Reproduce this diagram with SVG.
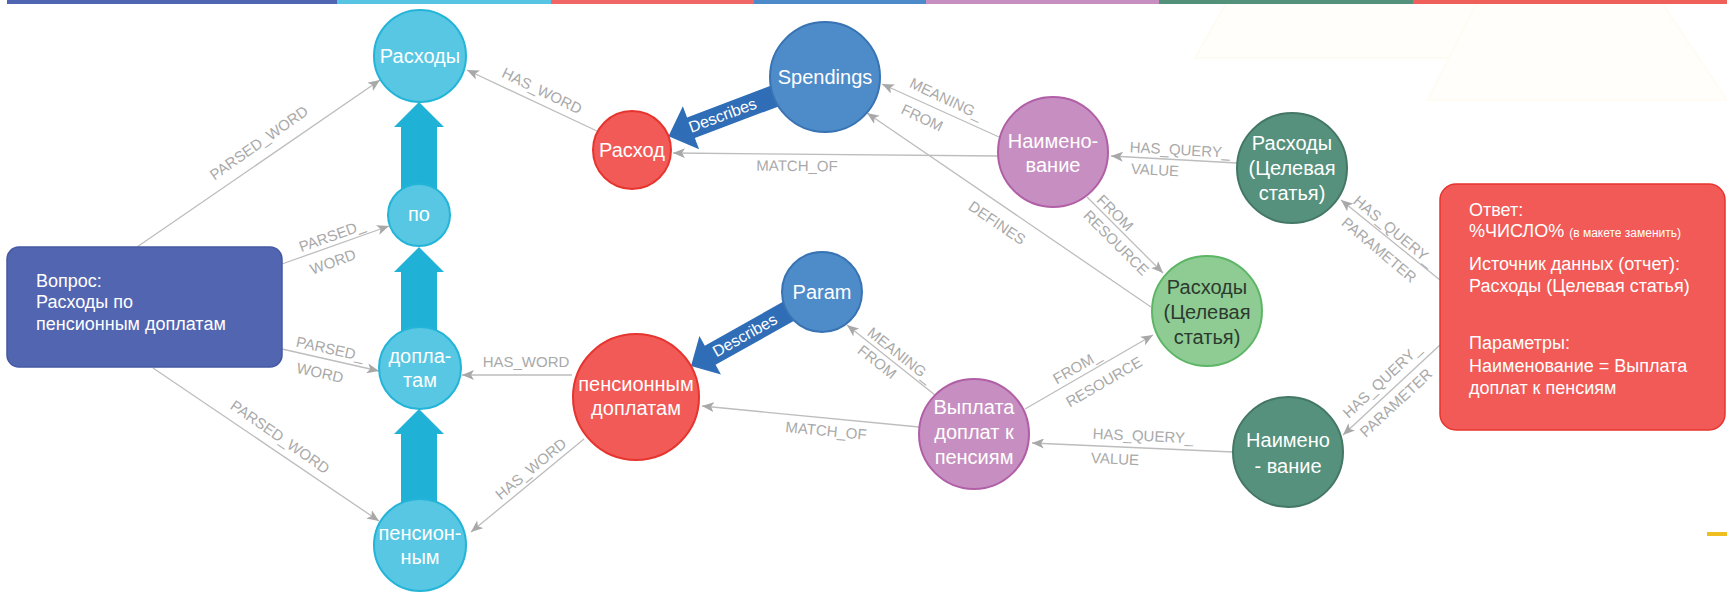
<svg xmlns="http://www.w3.org/2000/svg" width="1727" height="592" viewBox="0 0 1727 592">
<style>
text{font-family:"Liberation Sans",Arial,sans-serif}
.e{stroke:#bdbdbd;stroke-width:1.3;fill:none;marker-end:url(#ah)}
.el{font-size:15px;fill:#a9a9a9;text-anchor:middle}
.nt{font-size:20px;fill:#fff;text-anchor:middle}
.dk{fill:#2c3a2f}
.bt{font-size:18px;fill:#fff}
.cy{fill:#57c7e3;stroke:#23b4d8;stroke-width:2}
.rd{fill:#f15a56;stroke:#e6342f;stroke-width:2}
.bl{fill:#4e8bc9;stroke:#3873b4;stroke-width:2}
.pu{fill:#c78fc1;stroke:#b05fa6;stroke-width:2}
.dg{fill:#55917c;stroke:#447865;stroke-width:2}
.lg{fill:#8ecc93;stroke:#5db566;stroke-width:2}
.tc{fill:#1fb2d6}
.td{fill:#2f6db6}
</style>
<defs>
<marker id="ah" markerUnits="userSpaceOnUse" markerWidth="12" markerHeight="10" refX="12" refY="5" orient="auto"><path d="M0,0 L12,5 L0,10 L3,5 z" fill="#a8a8a8"/></marker>
</defs>
<rect width="1727" height="592" fill="#fff"/>
<g id="background">
<polygon points="1195,58 1228,0 1492,0 1522,58" fill="#fffefa" stroke="#fefcf2" stroke-width="2"/>
<polygon points="1428,100 1478,0 1660,0 1727,100" fill="#fffefa" stroke="#fefcf3" stroke-width="2"/>
<rect x="1707" y="532" width="20" height="4" fill="#efbf22"/>
</g>
<g id="topbar">
<rect x="7" y="0" width="330" height="4" fill="#5065b2"/>
<rect x="337" y="0" width="214" height="4" fill="#56c4e2"/>
<rect x="551" y="0" width="203" height="4" fill="#f16667"/>
<rect x="754" y="0" width="172" height="4" fill="#4d8ac9"/>
<rect x="926" y="0" width="233" height="4" fill="#c78ec2"/>
<rect x="1159" y="0" width="254" height="4" fill="#54917a"/>
<rect x="1413" y="0" width="314" height="4" fill="#f0605a"/>
</g>
<g id="connectors">
<line class="e" x1="137" y1="247" x2="380" y2="80"/>
<line class="e" x1="282" y1="264" x2="389" y2="226"/>
<line class="e" x1="282" y1="349" x2="379" y2="371"/>
<line class="e" x1="153" y1="368" x2="379" y2="521"/>
<line class="e" x1="597" y1="131" x2="467" y2="70"/>
<line class="e" x1="998" y1="156" x2="673" y2="153"/>
<line class="e" x1="999" y1="137" x2="882" y2="84"/>
<line class="e" x1="1151" y1="307" x2="867" y2="113"/>
<line class="e" x1="1087" y1="197" x2="1163" y2="273"/>
<line class="e" x1="1237" y1="163" x2="1111" y2="156"/>
<line class="e" x1="1440" y1="280" x2="1341" y2="200"/>
<line class="e" x1="1440" y1="345" x2="1343" y2="435"/>
<line class="e" x1="1233" y1="452" x2="1032" y2="443"/>
<line class="e" x1="1025" y1="409" x2="1153" y2="335"/>
<line class="e" x1="935" y1="395" x2="847" y2="325"/>
<line class="e" x1="919" y1="427" x2="702" y2="406"/>
<line class="e" x1="572" y1="375" x2="462" y2="375"/>
<line class="e" x1="584" y1="439" x2="471" y2="532"/>
<g class="el">
<text transform="translate(259,143) rotate(-35.3)" dy="5">PARSED_WORD</text>
<text transform="translate(332,236) rotate(-19.7)" dy="5">PARSED_</text>
<text transform="translate(333,262) rotate(-19.7)" dy="5">WORD</text>
<text transform="translate(330,349) rotate(12.3)" dy="5">PARSED_</text>
<text transform="translate(320,373) rotate(12.3)" dy="5">WORD</text>
<text transform="translate(280,437) rotate(34.8)" dy="5">PARSED_WORD</text>
<text transform="translate(542,91) rotate(25.9)" dy="5">HAS_WORD</text>
<text transform="translate(797,166) rotate(0.5)" dy="5">MATCH_OF</text>
<text transform="translate(946,99) rotate(25.2)" dy="5">MEANING_</text>
<text transform="translate(922,118) rotate(25.2)" dy="5">FROM</text>
<text transform="translate(997,223) rotate(34.3)" dy="5">DEFINES</text>
<text transform="translate(1115,213) rotate(45)" dy="5">FROM</text>
<text transform="translate(1116,243) rotate(45)" dy="5">RESOURCE</text>
<text transform="translate(1180,150) rotate(3.2)" dy="5">HAS_QUERY_</text>
<text transform="translate(1155,170) rotate(3.2)" dy="5">VALUE</text>
<text transform="translate(1394,231) rotate(40)" dy="5">HAS_QUERY_</text>
<text transform="translate(1379,250) rotate(40)" dy="5">PARAMETER</text>
<text transform="translate(1382,381) rotate(-43)" dy="5">HAS_QUERY_</text>
<text transform="translate(1396,403) rotate(-43)" dy="5">PARAMETER</text>
<text transform="translate(1143,436) rotate(2.6)" dy="5">HAS_QUERY_</text>
<text transform="translate(1115,459) rotate(2.6)" dy="5">VALUE</text>
<text transform="translate(1077,367) rotate(-30)" dy="5">FROM_</text>
<text transform="translate(1104,382) rotate(-30)" dy="5">RESOURCE</text>
<text transform="translate(900,355) rotate(38.5)" dy="5">MEANING_</text>
<text transform="translate(877,362) rotate(38.5)" dy="5">FROM</text>
<text transform="translate(826,431) rotate(5.6)" dy="5">MATCH_OF</text>
<text transform="translate(526,362)" dy="5">HAS_WORD</text>
<text transform="translate(531,469) rotate(-39.5)" dy="5">HAS_WORD</text>
</g>
<polygon class="tc" points="419,102 444,127 437,127 437,200 401,200 401,127 394,127"/>
<polygon class="tc" points="419,247 444,272 437,272 437,350 401,350 401,272 394,272"/>
<polygon class="tc" points="419,409 444,434 437,434 437,520 401,520 401,434 394,434"/>
<g transform="translate(668.5,136.2) rotate(-20.7)">
<polygon class="td" points="0,0 24,-23 24,-11 170,-11 170,11 24,11 24,23"/>
<text x="58" y="0" dy="5" font-size="16" fill="#fff" text-anchor="middle">Describes</text>
</g>
<g transform="translate(691,366) rotate(-29.3)">
<polygon class="td" points="0,0 22,-22 22,-11 150,-11 150,11 22,11 22,22"/>
<text x="62" y="0" dy="5" font-size="16" fill="#fff" text-anchor="middle">Describes</text>
</g>
</g>
<g id="question">
<rect x="7" y="247" width="275" height="120" rx="12" fill="#5265b1" stroke="#4658a3" stroke-width="1.5"/>
<text class="bt" x="36" y="287">Вопрос:</text>
<text class="bt" x="36" y="308">Расходы по</text>
<text class="bt" x="36" y="330">пенсионным доплатам</text>
</g>
<g id="answer">
<rect x="1440" y="184" width="285" height="246" rx="16" fill="#f15a56" stroke="#e6342f" stroke-width="1.5"/>
<text class="bt" x="1469" y="216">Ответ:</text>
<text class="bt" x="1469" y="237">%ЧИСЛО% <tspan font-size="12">(в макете заменить)</tspan></text>
<text class="bt" x="1469" y="270">Источник данных (отчет):</text>
<text class="bt" x="1469" y="292">Расходы (Целевая статья)</text>
<text class="bt" x="1469" y="349">Параметры:</text>
<text class="bt" x="1469" y="372">Наименование = Выплата</text>
<text class="bt" x="1469" y="394">доплат к пенсиям</text>
</g>
<g id="w-raskhody"><circle class="cy" cx="420" cy="56" r="46"/><text class="nt" x="420" y="63">Расходы</text></g>
<g id="w-po"><circle class="cy" cx="419" cy="215" r="31"/><text class="nt" x="419" y="221">по</text></g>
<g id="w-doplatam"><circle class="cy" cx="420" cy="368" r="41"/><text class="nt" x="420" y="363">допла-</text><text class="nt" x="420" y="387">там</text></g>
<g id="w-pensionnym"><circle class="cy" cx="420" cy="545" r="46"/><text class="nt" x="420" y="540">пенсион-</text><text class="nt" x="420" y="564">ным</text></g>
<g id="m-raskhod"><circle class="rd" cx="632" cy="150" r="39"/><text class="nt" x="632" y="157">Расход</text></g>
<g id="m-pension"><circle class="rd" cx="636" cy="397" r="63"/><text class="nt" x="636" y="391">пенсионным</text><text class="nt" x="636" y="415">доплатам</text></g>
<g id="c-spendings"><circle class="bl" cx="825" cy="77" r="55"/><text class="nt" x="825" y="84">Spendings</text></g>
<g id="c-param"><circle class="bl" cx="822" cy="292" r="40"/><text class="nt" x="822" y="299">Param</text></g>
<g id="v-naimen"><circle class="pu" cx="1053" cy="152" r="55"/><text class="nt" x="1053" y="148">Наимено-</text><text class="nt" x="1053" y="172">вание</text></g>
<g id="v-vyplata"><circle class="pu" cx="974" cy="434" r="55"/><text class="nt" x="974" y="414">Выплата</text><text class="nt" x="974" y="439">доплат к</text><text class="nt" x="974" y="464">пенсиям</text></g>
<g id="q-raskhody"><circle class="dg" cx="1292" cy="168" r="55"/><text class="nt" x="1292" y="150">Расходы</text><text class="nt" x="1292" y="175">(Целевая</text><text class="nt" x="1292" y="200">статья)</text></g>
<g id="q-naimen"><circle class="dg" cx="1288" cy="452" r="55"/><text class="nt" x="1288" y="447">Наимено</text><text class="nt" x="1288" y="473">- вание</text></g>
<g id="r-raskhody"><circle class="lg" cx="1207" cy="311" r="55"/><text class="nt dk" x="1207" y="294">Расходы</text><text class="nt dk" x="1207" y="319">(Целевая</text><text class="nt dk" x="1207" y="344">статья)</text></g>
</svg>
